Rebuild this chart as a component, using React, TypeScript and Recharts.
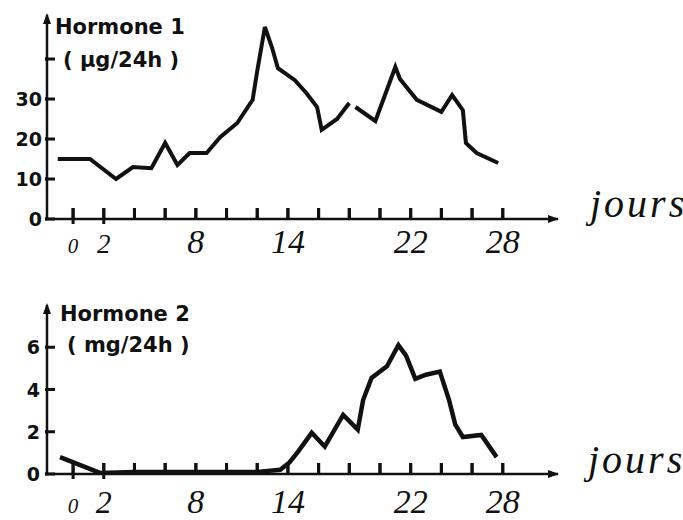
import { LineChart, Line, XAxis, YAxis } from 'recharts'

// days along the cycle, ticks every 2 days
const xTicks = [0, 2, 4, 6, 8, 10, 12, 14, 16, 18, 20, 22, 24, 26, 28]
const labeledDays = [0, 2, 8, 14, 22, 28]

// Hormone 1 (µg/24h)
const h1Days = [-1, 1.1, 2.8, 3.9, 5.1, 6.0, 6.8, 7.6, 8.7, 9.6, 10.7, 11.7, 12.0, 12.5, 12.95, 13.35, 14.45, 15.2, 15.9, 16.2, 17.2, 18.0, 18.2, 18.4, 19.7, 21.0, 21.3, 22.4, 24.0, 24.7, 25.4, 25.6, 26.3, 27.7]
const h1Values = [15, 15, 10, 13, 12.7, 19, 13.5, 16.5, 16.5, 20.5, 24, 29.8, 37, 48, 43, 37.7, 34.7, 31.5, 28, 22.3, 25, 29, null, 28, 24.5, 38, 35, 29.8, 26.8, 31, 27.2, 19, 16.5, 14]
const h1Ticks = [0, 10, 20, 30, 40]
const h1Labeled = [0, 10, 20, 30]

// Hormone 2 (mg/24h)
const h2Days = [-0.85, 1.75, 4, 6, 8, 10, 12, 13.5, 14.1, 14.65, 15.55, 16.4, 17.6, 18.55, 18.9, 19.45, 20.45, 21.2, 21.7, 22.3, 23.0, 23.9, 24.5, 24.9, 25.4, 26.6, 27.6]
const h2Values = [0.8, 0.05, 0.1, 0.1, 0.1, 0.1, 0.1, 0.2, 0.55, 1.05, 1.95, 1.3, 2.8, 2.1, 3.5, 4.55, 5.1, 6.1, 5.6, 4.5, 4.7, 4.85, 3.5, 2.35, 1.75, 1.85, 0.8]
const h2Ticks = [0, 2, 4, 6]
const h2Labeled = [0, 2, 4, 6]

const INK = '#111'
const HAND = "'Liberation Serif', serif"
const PRINT = "'DejaVu Sans', sans-serif"

const h1Data = h1Days.map((d, i) => ({ day: d, value: h1Values[i] }))
const h2Data = h2Days.map((d, i) => ({ day: d, value: h2Values[i] }))

// tickSize -11 on x: the tick line goes up from the axis; y handed to the label is 11px above the axis
function XTick(props: any) {
  const { x, y, payload, labelDy, small2 } = props
  const v = payload.value
  const axisY = y + 11
  let size = 34
  if (v === 0) size = 21
  if (v === 2) size = small2
  return (
    <g>
      <path d={`M${x},${y} L${x},${v <= 2 ? axisY + 5 : axisY}`} stroke={INK} strokeWidth={3} fill="none" />
      {labeledDays.includes(v) && (
        <text x={x} y={axisY + labelDy} textAnchor="middle" fontFamily={HAND} fontStyle="italic" fontSize={size} fill={INK}>
          {v}
        </text>
      )}
    </g>
  )
}

function YTick(props: any) {
  const { x, y, payload, labeled, gap } = props
  const v = payload.value
  // x is 2px left of the axis (tickSize 2)
  return (
    <g>
      <path d={`M${x},${y} L${x + 10},${y}`} stroke={INK} strokeWidth={3} fill="none" />
      {labeled.includes(v) && (
        <text x={x - gap} y={y + 7} textAnchor="end" fontFamily={PRINT} fontWeight="bold" fontSize={19} fill={INK}>
          {v}
        </text>
      )}
    </g>
  )
}

const upArrow = (left: number, top: number) => ({
  position: 'absolute' as const,
  left: left - 4,
  top,
  width: 0,
  height: 0,
  borderLeft: '4px solid transparent',
  borderRight: '4px solid transparent',
  borderBottom: `11px solid ${INK}`,
})

const rightArrow = (tipX: number, y: number) => ({
  position: 'absolute' as const,
  left: tipX - 11,
  top: y - 4,
  width: 0,
  height: 0,
  borderTop: '4px solid transparent',
  borderBottom: '4px solid transparent',
  borderLeft: `11px solid ${INK}`,
})

const title = (left: number, baseline: number) => ({
  position: 'absolute' as const,
  left,
  top: baseline - 17.8,
  fontFamily: PRINT,
  fontWeight: 'bold' as const,
  fontSize: 21,
  lineHeight: '21px',
  color: INK,
  whiteSpace: 'pre' as const,
})

const jours = (left: number, baseline: number) => ({
  position: 'absolute' as const,
  left,
  top: baseline - 33.5,
  fontFamily: HAND,
  fontStyle: 'italic' as const,
  fontSize: 40,
  lineHeight: '40px',
  letterSpacing: 3,
  color: INK,
  whiteSpace: 'pre' as const,
})

export default function App() {
  return (
    <div style={{ position: 'absolute', left: 0, top: 0, width: 683, height: 520, overflow: 'hidden', background: '#fff' }}>
      <LineChart width={683} height={260} data={h1Data} margin={{ top: 15, right: 125, left: 7, bottom: 0 }}>
        <XAxis
          type="number"
          dataKey="day"
          domain={[-1.7, 31.6]}
          ticks={xTicks}
          interval={0}
          allowDataOverflow
          height={41}
          tickSize={-11}
          tickMargin={0}
          tickLine={{ stroke: INK, strokeWidth: 3 }}
          axisLine={{ stroke: INK, strokeWidth: 2.5 }}
          tick={(t: any) => <XTick {...t} labelDy={34} small2={27} />}
        />
        <YAxis
          type="number"
          domain={[0, 51]}
          ticks={h1Ticks}
          interval={0}
          allowDataOverflow
          width={40}
          tickSize={2}
          tickMargin={0}
          tickLine={{ stroke: INK, strokeWidth: 3 }}
          axisLine={{ stroke: INK, strokeWidth: 2.5 }}
          tick={(t: any) => <YTick {...t} labeled={h1Labeled} gap={3} />}
        />
        <Line type="linear" dataKey="value" stroke={INK} strokeWidth={4} dot={false} isAnimationActive={false} />
      </LineChart>
      <LineChart width={683} height={260} data={h2Data} margin={{ top: 45, right: 125, left: 7, bottom: 0 }}>
        <XAxis
          type="number"
          dataKey="day"
          domain={[-1.7, 31.6]}
          ticks={xTicks}
          interval={0}
          allowDataOverflow
          height={46}
          tickSize={-11}
          tickMargin={0}
          tickLine={{ stroke: INK, strokeWidth: 3 }}
          axisLine={{ stroke: INK, strokeWidth: 2.5 }}
          tick={(t: any) => <XTick {...t} labelDy={39} small2={32} />}
        />
        <YAxis
          type="number"
          domain={[0, 8]}
          ticks={h2Ticks}
          interval={0}
          allowDataOverflow
          width={40}
          tickSize={2}
          tickMargin={0}
          tickLine={{ stroke: INK, strokeWidth: 3 }}
          axisLine={{ stroke: INK, strokeWidth: 2.5 }}
          tick={(t: any) => <YTick {...t} labeled={h2Labeled} gap={5} />}
        />
        <Line type="linear" dataKey="value" stroke={INK} strokeWidth={4.5} dot={false} isAnimationActive={false} />
      </LineChart>
      <div style={upArrow(47, 13)} />
      <div style={rightArrow(559, 219)} />
      <div style={upArrow(47, 303)} />
      <div style={rightArrow(559, 474)} />
      <div style={title(55, 35)}>Hormone 1</div>
      <div style={title(63, 68)}>( µg/24h )</div>
      <div style={title(60, 322)}>Hormone 2</div>
      <div style={title(67, 353)}>( mg/24h )</div>
      <div style={jours(590, 217)}>jours</div>
      <div style={jours(588, 473)}>jours</div>
    </div>
  )
}
